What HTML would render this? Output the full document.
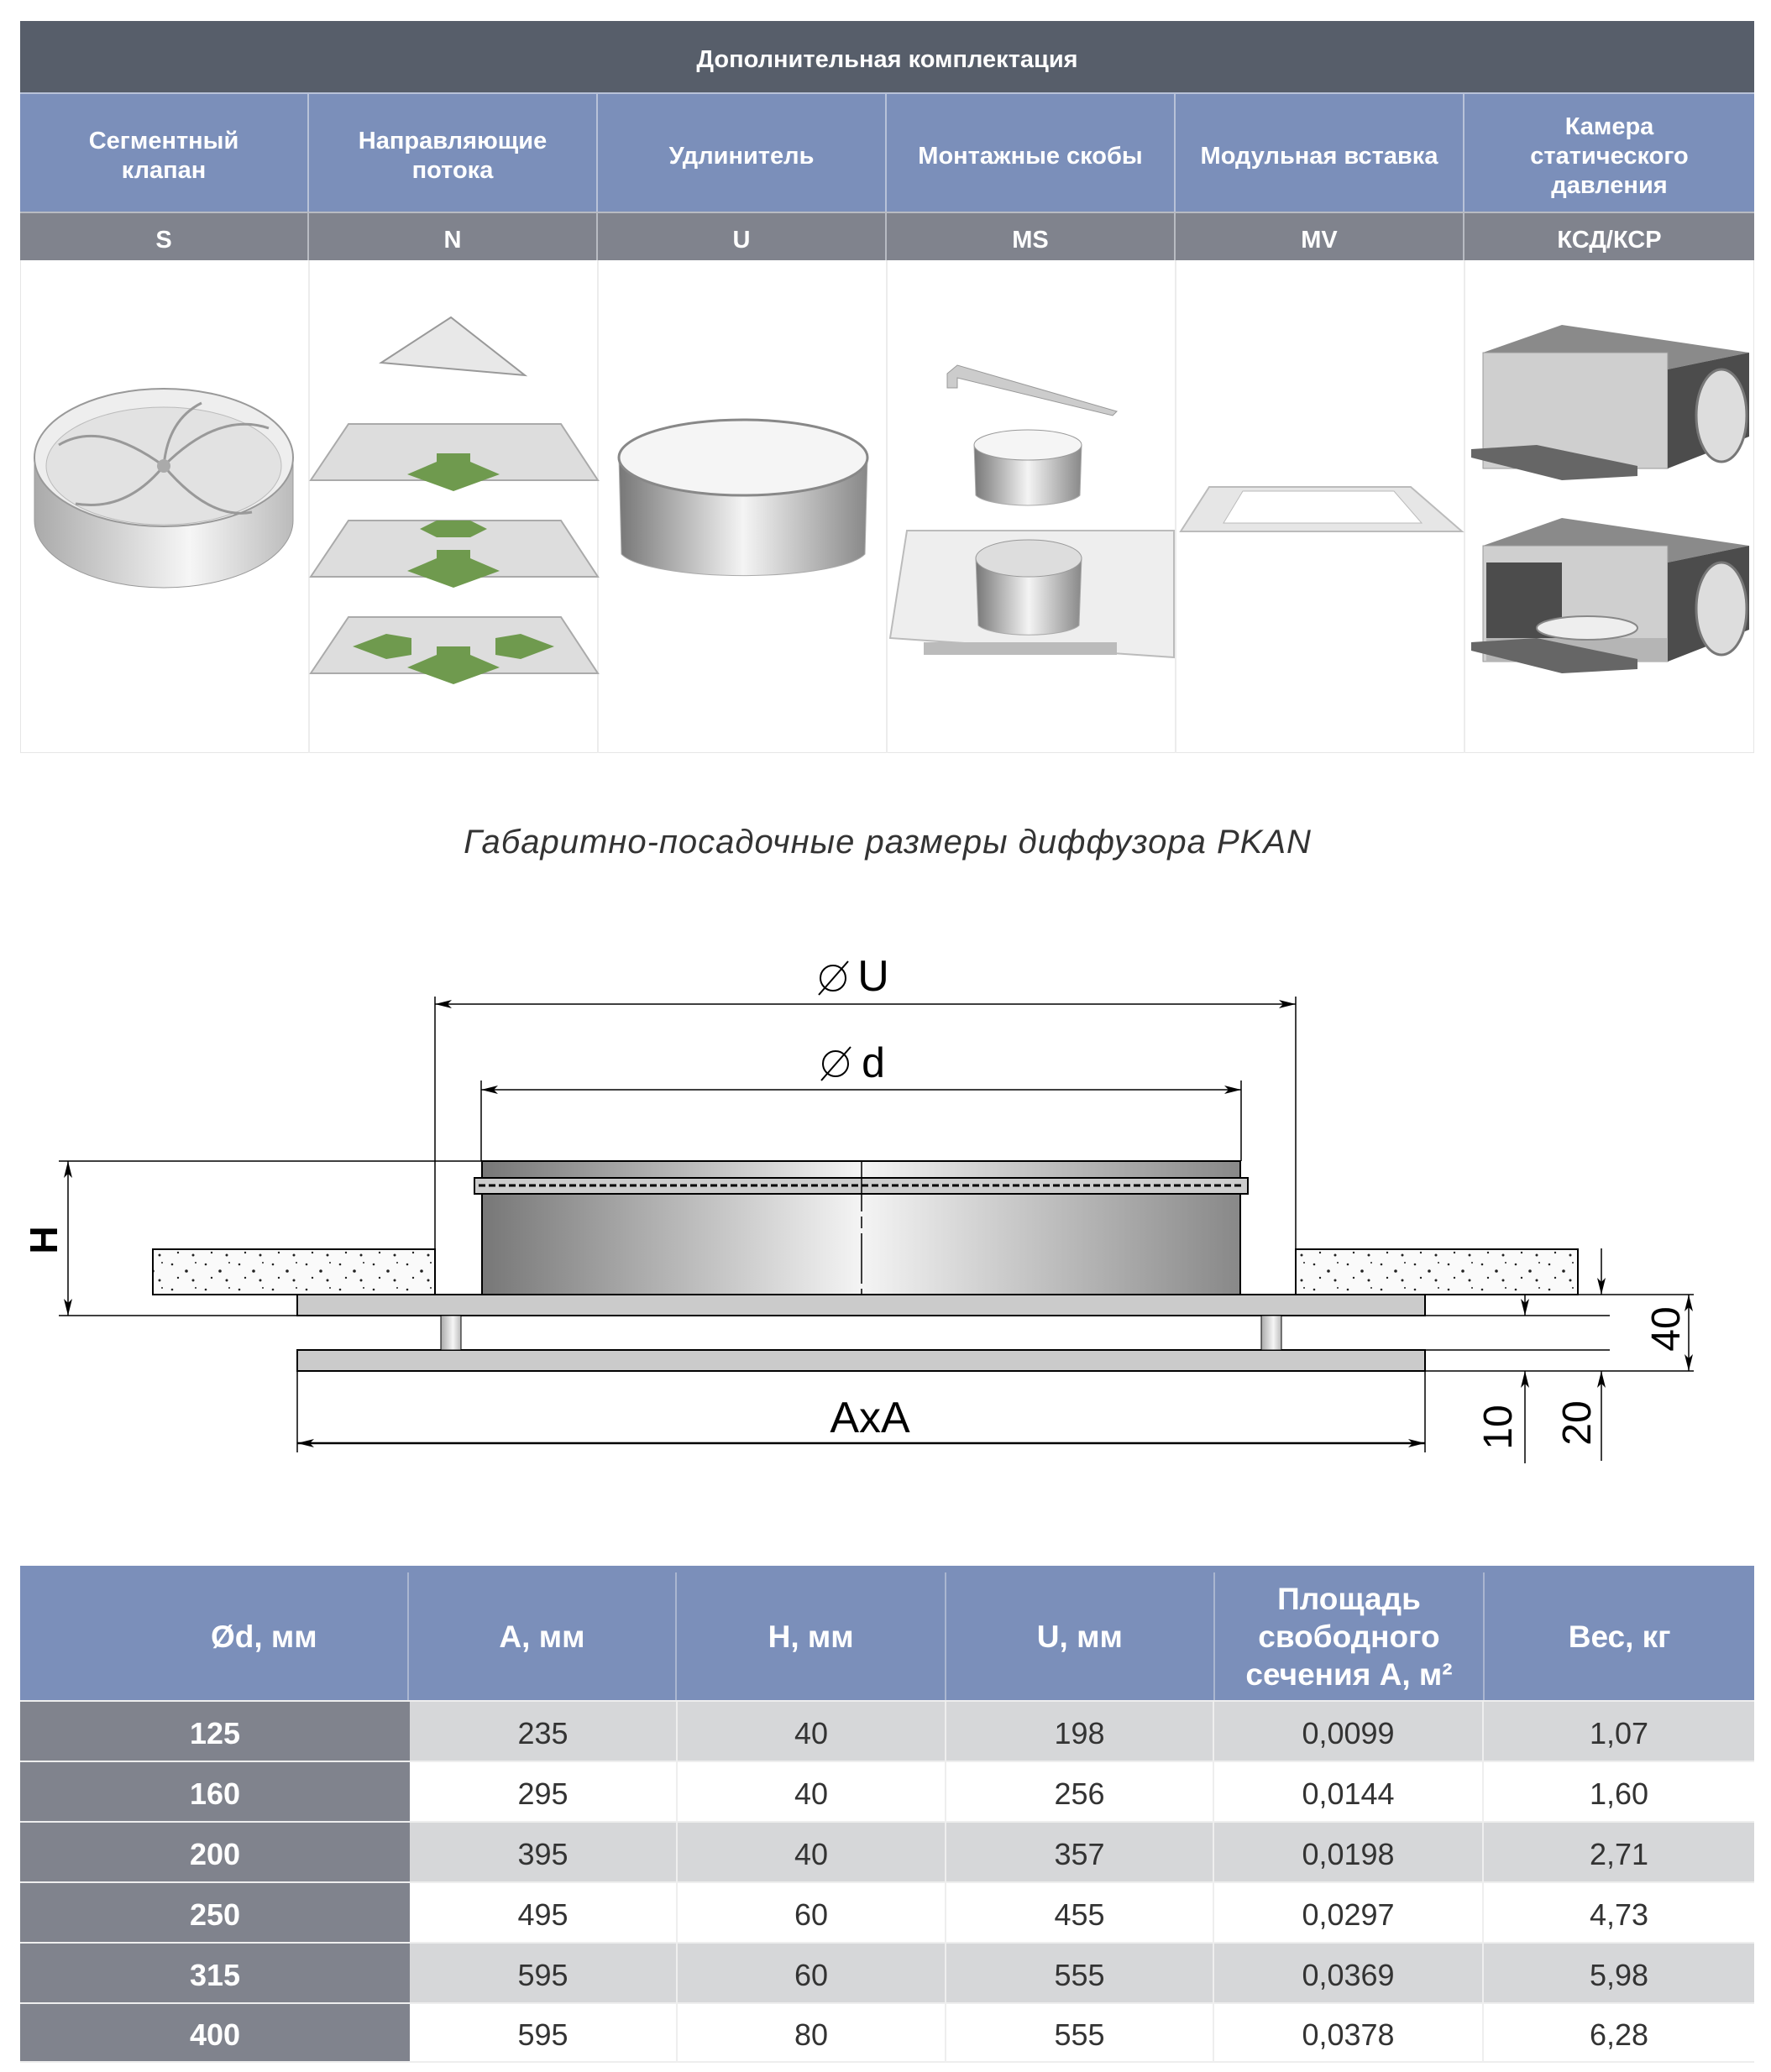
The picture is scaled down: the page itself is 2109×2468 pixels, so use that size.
<!DOCTYPE html>
<html><head><meta charset="utf-8"><style>
body{margin:0;background:#fff;width:2109px;height:2468px;position:relative;overflow:hidden;font-family:"Liberation Sans",sans-serif}
.a{position:absolute;box-sizing:border-box;display:flex;align-items:center;justify-content:center;text-align:center;color:#fff;padding-top:8px}
.r{display:flex;height:72px;border-top:2px solid #eee;box-sizing:border-box}
.r div{display:flex;align-items:center;justify-content:center;font-size:36px;color:#333;padding-top:6px;box-sizing:border-box}
.r div:first-child{width:464px;background:#80838d;color:#fff;font-weight:bold}
.r div:nth-child(2){width:319px;border-right:2px solid #eee}
.r div:nth-child(3){width:320px;border-right:2px solid #eee}
.r div:nth-child(4){width:319px;border-right:2px solid #eee}
.r div:nth-child(5){width:321px;border-right:2px solid #eee}
.r div:nth-child(6){width:322px}
.g{background:#d6d7d9}.w{background:#fff}
</style></head><body>
<div class="a" style="left:24px;top:25px;width:2065px;height:85px;background:#575e6a;font-size:29px;font-weight:bold">Дополнительная комплектация</div>
<div style="position:absolute;left:24px;top:110px;width:2065px;height:787px;border:1px solid #e6e6e6;box-sizing:border-box"></div>
<div class="a" style="left:24px;top:110px;width:344px;height:142px;background:#7b8fba;font-size:29px;font-weight:bold;line-height:35px;border-right:2px solid #b8c2d8;border-top:2px solid #b8c2d8">Сегментный<br>клапан</div>
<div class="a" style="left:368px;top:110px;width:344px;height:142px;background:#7b8fba;font-size:29px;font-weight:bold;line-height:35px;border-right:2px solid #b8c2d8;border-top:2px solid #b8c2d8">Направляющие<br>потока</div>
<div class="a" style="left:712px;top:110px;width:344px;height:142px;background:#7b8fba;font-size:29px;font-weight:bold;border-right:2px solid #b8c2d8;border-top:2px solid #b8c2d8">Удлинитель</div>
<div class="a" style="left:1056px;top:110px;width:344px;height:142px;background:#7b8fba;font-size:29px;font-weight:bold;border-right:2px solid #b8c2d8;border-top:2px solid #b8c2d8">Монтажные скобы</div>
<div class="a" style="left:1400px;top:110px;width:344px;height:142px;background:#7b8fba;font-size:29px;font-weight:bold;border-right:2px solid #b8c2d8;border-top:2px solid #b8c2d8">Модульная вставка</div>
<div class="a" style="left:1744px;top:110px;width:345px;height:142px;background:#7b8fba;font-size:29px;font-weight:bold;line-height:35px;border-top:2px solid #b8c2d8">Камера<br>статического<br>давления</div>
<div class="a" style="left:24px;top:252px;width:344px;height:58px;background:#80838d;font-size:29px;font-weight:bold;border-right:2px solid #b8bbc2;border-top:2px solid #b8bbc2">S</div>
<div class="a" style="left:368px;top:252px;width:344px;height:58px;background:#80838d;font-size:29px;font-weight:bold;border-right:2px solid #b8bbc2;border-top:2px solid #b8bbc2">N</div>
<div class="a" style="left:712px;top:252px;width:344px;height:58px;background:#80838d;font-size:29px;font-weight:bold;border-right:2px solid #b8bbc2;border-top:2px solid #b8bbc2">U</div>
<div class="a" style="left:1056px;top:252px;width:344px;height:58px;background:#80838d;font-size:29px;font-weight:bold;border-right:2px solid #b8bbc2;border-top:2px solid #b8bbc2">MS</div>
<div class="a" style="left:1400px;top:252px;width:344px;height:58px;background:#80838d;font-size:29px;font-weight:bold;border-right:2px solid #b8bbc2;border-top:2px solid #b8bbc2">MV</div>
<div class="a" style="left:1744px;top:252px;width:345px;height:58px;background:#80838d;font-size:29px;font-weight:bold;border-top:2px solid #b8bbc2">КСД/КСР</div>

<svg style="position:absolute;left:0;top:0" width="2109" height="2468" xmlns="http://www.w3.org/2000/svg">
<defs>
<linearGradient id="cyl" x1="0" x2="1"><stop offset="0" stop-color="#777"/><stop offset="0.5" stop-color="#f4f4f4"/><stop offset="1" stop-color="#888"/></linearGradient>
<linearGradient id="cyl2" x1="0" x2="1"><stop offset="0" stop-color="#aaa"/><stop offset="0.6" stop-color="#f6f6f6"/><stop offset="1" stop-color="#bbb"/></linearGradient>
<marker id="ar" viewBox="0 0 20 10" refX="20" refY="5" markerWidth="20" markerHeight="10" orient="auto-start-reverse" markerUnits="userSpaceOnUse"><path d="M0,0 L20,5 L0,10 L5,5z" fill="#000"/></marker>
<pattern id="dots" width="40" height="30" patternUnits="userSpaceOnUse"><rect width="40" height="30" fill="#fafafa"/><circle cx="5" cy="6" r="1.3" fill="#222"/><circle cx="22" cy="14" r="1.8" fill="#222"/><circle cx="33" cy="4" r="1" fill="#222"/><circle cx="12" cy="22" r="1.2" fill="#222"/><circle cx="30" cy="25" r="1.5" fill="#222"/></pattern>
</defs>
<g stroke="#ececec" stroke-width="2"><line x1="368" y1="310" x2="368" y2="897"/><line x1="712" y1="310" x2="712" y2="897"/><line x1="1056" y1="310" x2="1056" y2="897"/><line x1="1400" y1="310" x2="1400" y2="897"/><line x1="1744" y1="310" x2="1744" y2="897"/></g>
<path d="M41,545 L41,620 A154,80 0 0 0 349,620 L349,545z" fill="url(#cyl2)" stroke="#999"/>
<ellipse cx="195" cy="545" rx="154" ry="82" fill="#eee" stroke="#999" stroke-width="2"/>
<ellipse cx="195" cy="555" rx="140" ry="70" fill="#e2e2e2" stroke="#bbb"/>
<g stroke="#999" stroke-width="3" fill="none"><path d="M195,555 Q120,500 70,530"/><path d="M195,555 Q260,490 320,510"/><path d="M195,555 Q150,610 90,600"/><path d="M195,555 Q250,620 300,610"/><path d="M195,555 Q200,500 240,480"/></g>
<circle cx="195" cy="555" r="8" fill="#aaa"/>
<polygon points="454,432 537,378 625,447" fill="#e8e8e8" stroke="#999" stroke-width="2"/>
<g fill="#ddd" stroke="#aaa" stroke-width="2">
<polygon points="370,572 415,505 668,505 712,572"/><polygon points="370,687 415,620 668,620 712,687"/><polygon points="370,802 415,735 668,735 712,802"/></g>
<g fill="#6f9a4e"><polygon points="485,565 520,550 520,540 560,540 560,550 595,565 540,585"/><polygon points="485,680 520,665 520,655 560,655 560,665 595,680 540,700"/><polygon points="500,630 520,620 560,620 580,630 560,640 520,640"/><polygon points="485,795 520,780 520,770 560,770 560,780 595,795 540,815"/><polygon points="420,770 460,755 490,760 490,780 460,785"/><polygon points="660,770 620,755 590,760 590,780 620,785"/></g>
<path d="M737,545 L740,660 A148,32 0 0 0 1030,660 L1033,545z" fill="url(#cyl)" stroke="#aaa"/>
<ellipse cx="885" cy="545" rx="148" ry="45" fill="#f5f5f5" stroke="#888" stroke-width="3"/>
<path d="M1128,445 L1140,435 L1330,490 L1325,495 L1140,450 L1140,462 L1128,462z" fill="#ccc" stroke="#999"/>
<path d="M1160,530 L1162,590 A64,16 0 0 0 1286,590 L1288,530z" fill="url(#cyl)" stroke="#aaa"/>
<ellipse cx="1224" cy="530" rx="64" ry="18" fill="#f5f5f5" stroke="#999"/>
<polygon points="1080,632 1398,632 1398,783 1060,760" fill="#eee" stroke="#bbb" stroke-width="2"/>
<rect x="1100" y="765" width="230" height="15" fill="#bbb"/>
<path d="M1162,665 L1165,745 A62,15 0 0 0 1285,745 L1288,665z" fill="url(#cyl)" stroke="#aaa"/>
<ellipse cx="1225" cy="665" rx="63" ry="22" fill="#ddd" stroke="#999"/>
<polygon points="1406,633 1440,580 1680,580 1741,633" fill="#e6e6e6" stroke="#bbb" stroke-width="2"/>
<polygon points="1457,623 1480,585 1660,585 1693,623" fill="#fff" stroke="#bbb"/>
<g>
<polygon points="1766,420 1860,387 2083,420 1986,440" fill="#8a8a8a"/>
<rect x="1766" y="420" width="220" height="138" fill="#cfcfcf" stroke="#999"/>
<polygon points="1986,440 2083,420 2083,520 1986,558" fill="#4c4c4c"/>
<ellipse cx="2050" cy="495" rx="30" ry="55" fill="#ddd" stroke="#777" stroke-width="3"/>
<polygon points="1752,535 1830,530 1950,555 1950,567 1860,572 1752,545" fill="#666"/>
</g>
<g transform="translate(0,230)">
<polygon points="1766,420 1860,387 2083,420 1986,440" fill="#8a8a8a"/>
<rect x="1766" y="420" width="220" height="138" fill="#cfcfcf" stroke="#999"/>
<polygon points="1770,440 1860,440 1860,558 1770,558" fill="#4c4c4c"/>
<polygon points="1770,530 1986,530 1986,558 1770,558" fill="#b5b5b5"/>
<ellipse cx="1890" cy="518" rx="60" ry="14" fill="#eee" stroke="#888" stroke-width="2"/>
<polygon points="1986,440 2083,420 2083,520 1986,558" fill="#4c4c4c"/>
<ellipse cx="2050" cy="495" rx="30" ry="55" fill="#ddd" stroke="#777" stroke-width="3"/>
<polygon points="1752,535 1830,530 1950,555 1950,567 1860,572 1752,545" fill="#666"/>
</g>

<text x="1057" y="1016" font-family="Liberation Sans, sans-serif" font-style="italic" font-size="40" letter-spacing="1" fill="#333" text-anchor="middle">Габаритно-посадочные размеры диффузора PKAN</text>

<g stroke="#000" stroke-width="1.5" fill="none">
<line x1="518" y1="1187" x2="518" y2="1488"/><line x1="1543" y1="1187" x2="1543" y2="1488"/>
<line x1="573" y1="1287" x2="573" y2="1383"/><line x1="1478" y1="1287" x2="1478" y2="1383"/>
<line x1="518" y1="1196" x2="1543" y2="1196" marker-start="url(#ar)" marker-end="url(#ar)"/>
<line x1="573" y1="1298" x2="1478" y2="1298" marker-start="url(#ar)" marker-end="url(#ar)"/>
<line x1="70" y1="1383" x2="574" y2="1383"/>
<line x1="70" y1="1567" x2="1917" y2="1567"/>
<line x1="182" y1="1542" x2="2017" y2="1542"/>
<line x1="1697" y1="1608" x2="1917" y2="1608"/>
<line x1="1697" y1="1633" x2="2017" y2="1633"/>
<line x1="81" y1="1383" x2="81" y2="1567" marker-start="url(#ar)" marker-end="url(#ar)"/>
<line x1="354" y1="1633" x2="354" y2="1730"/><line x1="1697" y1="1633" x2="1697" y2="1730"/>
<line x1="354" y1="1719" x2="1697" y2="1719" stroke-width="2.5" marker-start="url(#ar)" marker-end="url(#ar)"/>
<line x1="1816" y1="1542" x2="1816" y2="1567" marker-end="url(#ar)"/>
<line x1="1816" y1="1743" x2="1816" y2="1633" marker-end="url(#ar)"/>
<line x1="1907" y1="1487" x2="1907" y2="1542" marker-end="url(#ar)"/>
<line x1="1907" y1="1740" x2="1907" y2="1633" marker-end="url(#ar)"/>
<line x1="2011" y1="1542" x2="2011" y2="1633" marker-start="url(#ar)" marker-end="url(#ar)"/>
</g>
<rect x="182" y="1488" width="336" height="54" fill="url(#dots)" stroke="#000" stroke-width="2"/>
<rect x="1543" y="1488" width="336" height="54" fill="url(#dots)" stroke="#000" stroke-width="2"/>
<rect x="574" y="1383" width="903" height="159" fill="url(#cyl)" stroke="#000" stroke-width="2"/>
<rect x="565" y="1403" width="921" height="19" fill="#ccc" stroke="#000" stroke-width="2"/>
<line x1="570" y1="1412" x2="1482" y2="1412" stroke="#000" stroke-width="3" stroke-dasharray="8,4"/>
<line x1="1026" y1="1383" x2="1026" y2="1542" stroke="#000" stroke-width="1.5" stroke-dasharray="60,6,14,6"/>
<rect x="354" y="1542" width="1343" height="25" fill="#cbcbcb" stroke="#000" stroke-width="2"/>
<rect x="354" y="1608" width="1343" height="25" fill="#cbcbcb" stroke="#000" stroke-width="2"/>
<rect x="525" y="1567" width="24" height="41" fill="url(#cyl2)" stroke="#000"/>
<rect x="1502" y="1567" width="24" height="41" fill="url(#cyl2)" stroke="#000"/>
<g font-family="Liberation Sans, sans-serif" fill="#000" text-anchor="middle">
<circle cx="992" cy="1165" r="15" fill="none" stroke="#000" stroke-width="2"/><line x1="975" y1="1185" x2="1010" y2="1145" stroke="#000" stroke-width="2"/>
<text x="1040" y="1180" font-size="52">U</text>
<circle cx="995" cy="1267" r="15" fill="none" stroke="#000" stroke-width="2"/><line x1="978" y1="1287" x2="1013" y2="1247" stroke="#000" stroke-width="2"/>
<text x="1040" y="1283" font-size="50">d</text>
<text x="1036" y="1706" font-size="52">AxA</text>
<text transform="translate(68,1477) rotate(-90)" font-size="46" font-weight="bold">H</text>
<text transform="translate(1800,1700) rotate(-90)" font-size="48">10</text>
<text transform="translate(1894,1695) rotate(-90)" font-size="48">20</text>
<text transform="translate(2000,1583) rotate(-90)" font-size="48">40</text>
</g>
</svg>

<div style="position:absolute;left:24px;top:1865px;width:2065px">
<div style="display:flex;height:160px;background:#7b8fba;color:#fff;font-size:37px;font-weight:bold;text-align:center;line-height:45px;padding-top:8px;box-sizing:border-box">
<div style="width:464px;display:flex;align-items:center;justify-content:center;padding-left:120px;box-sizing:border-box;border-right:2px solid #aab6d0">Ød, мм</div>
<div style="width:319px;display:flex;align-items:center;justify-content:center;border-right:2px solid #aab6d0">A, мм</div>
<div style="width:320px;display:flex;align-items:center;justify-content:center;border-right:2px solid #aab6d0">H, мм</div>
<div style="width:319px;display:flex;align-items:center;justify-content:center;border-right:2px solid #aab6d0">U, мм</div>
<div style="width:321px;display:flex;align-items:center;justify-content:center;border-right:2px solid #aab6d0">Площадь<br>свободного<br>сечения А, м²</div>
<div style="width:322px;display:flex;align-items:center;justify-content:center">Вес, кг</div>
</div>
</div>
<div style="position:absolute;left:24px;top:2025px;width:2065px">
<div class="r g"><div>125</div><div>235</div><div>40</div><div>198</div><div>0,0099</div><div>1,07</div></div>
<div class="r w"><div>160</div><div>295</div><div>40</div><div>256</div><div>0,0144</div><div>1,60</div></div>
<div class="r g"><div>200</div><div>395</div><div>40</div><div>357</div><div>0,0198</div><div>2,71</div></div>
<div class="r w"><div>250</div><div>495</div><div>60</div><div>455</div><div>0,0297</div><div>4,73</div></div>
<div class="r g"><div>315</div><div>595</div><div>60</div><div>555</div><div>0,0369</div><div>5,98</div></div>
<div class="r w" style="border-bottom:2px solid #eee"><div>400</div><div>595</div><div>80</div><div>555</div><div>0,0378</div><div>6,28</div></div>
</div>
</body></html>
